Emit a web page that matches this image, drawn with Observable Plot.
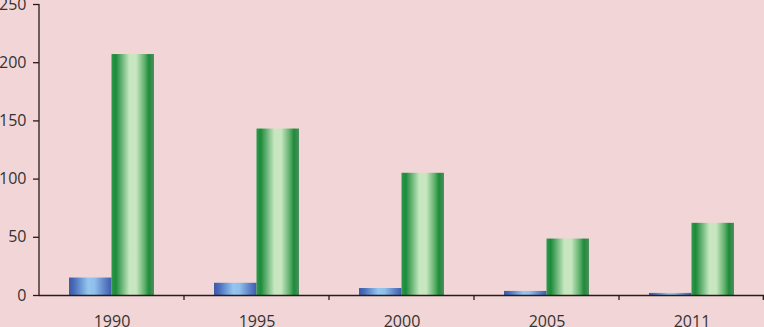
<!DOCTYPE html>
<html>
<head>
<meta charset="utf-8">
<script src="https://cdn.jsdelivr.net/npm/d3@7"></script>
<script src="https://cdn.jsdelivr.net/npm/@observablehq/plot@0.6"></script>
<style>
  html, body { margin: 0; padding: 0; background: #f2d6d7; overflow: hidden; }
  #chart svg { display: block; }
</style>
</head>
<body>
<div id="chart"></div>
<script>
const years = ["1990", "1995", "2000", "2005", "2011"];
const blueValues = [15, 10.5, 6, 3.5, 1.8];
const greenValues = [207, 143, 105, 48.5, 62];
const yTicks = [0, 50, 100, 150, 200, 250];

const blueData = years.map((yr, i) => ({ year: yr, value: blueValues[i] }));
const greenData = years.map((yr, i) => ({ year: yr, value: greenValues[i] }));

const W = 764, H = 327, ML = 39, MR = 0, MT = 4, MB = 32;
const bw = (W - ML - MR) / years.length;   // band width of one year
const outer = bw * 0.207;                   // empty space each side of the bar pair
const barW = (bw - 2 * outer) / 2;

const NS = "http://www.w3.org/2000/svg";
function el(name, attrs) {
  const e = document.createElementNS(NS, name);
  for (const k in attrs) e.setAttribute(k, attrs[k]);
  return e;
}
function gradient(id, stops) {
  const g = el("linearGradient", { id, x1: "0", y1: "0", x2: "1", y2: "0" });
  stops.forEach(([o, c]) => g.appendChild(el("stop", { offset: o, "stop-color": c })));
  return g;
}

// gradient defs, y-axis line and boundary ticks on the category axis
function extras(index, scales, values, dims) {
  const g = el("g", {});
  const defs = el("defs", {});
  defs.appendChild(gradient("gradBlue", [
    ["0", "#3b58a6"], ["0.12", "#4a6dbb"], ["0.45", "#94c6f0"], ["0.6", "#8fbfea"], ["0.85", "#5a7fc6"], ["1", "#3e5cab"]
  ]));
  defs.appendChild(gradient("gradGreen", [
    ["0", "#2c9a49"], ["0.1", "#1d8a3b"], ["0.42", "#c6e7c0"], ["0.58", "#c8e6c1"], ["0.78", "#5fb06b"], ["0.88", "#1e8a3c"], ["1", "#4e8f5e"]
  ]));
  g.appendChild(defs);
  const x = scales.x;
  const y0 = dims.height - dims.marginBottom;
  const xL = dims.marginLeft;
  g.appendChild(el("line", { x1: xL, x2: xL, y1: dims.marginTop, y2: y0, stroke: "#2a1a1a", "stroke-width": 1.3 }));
  const xs = years.slice(1).map(d => x(d));
  xs.push(dims.width - dims.marginRight - 0.7);
  xs.forEach(xx => {
    g.appendChild(el("line", { x1: xx, x2: xx, y1: y0, y2: y0 + 5, stroke: "#2a1a1a", "stroke-width": 1.3 }));
  });
  return g;
}

const chart = Plot.plot({
  width: W,
  height: H,
  marginLeft: ML,
  marginRight: MR,
  marginTop: MT,
  marginBottom: MB,
  style: { background: "#f2d6d7", fontFamily: "'Open Sans', sans-serif", fontSize: "16px", color: "#333" },
  x: { domain: years, padding: 0, label: null },
  y: { domain: [0, 250], ticks: yTicks, label: null },
  marks: [
    extras,
    Plot.barY(blueData, { x: "year", y: "value", insetLeft: outer, insetRight: outer + barW, fill: "url(#gradBlue)" }),
    Plot.barY(greenData, { x: "year", y: "value", insetLeft: outer + barW, insetRight: outer, fill: "url(#gradGreen)" }),
    Plot.axisY({ ticks: yTicks, tickSize: 6, tickPadding: 7, stroke: "#2a1a1a", strokeWidth: 1.3, fill: "#333", fontSize: 16, label: null }),
    Plot.axisX({ tickSize: 0, tickPadding: 20, fill: "#333", fontSize: 16, label: null }),
    Plot.ruleY([0], { stroke: "#2a1a1a", strokeWidth: 1.3 })
  ]
});
document.getElementById("chart").appendChild(chart);
</script>
</body>
</html>
